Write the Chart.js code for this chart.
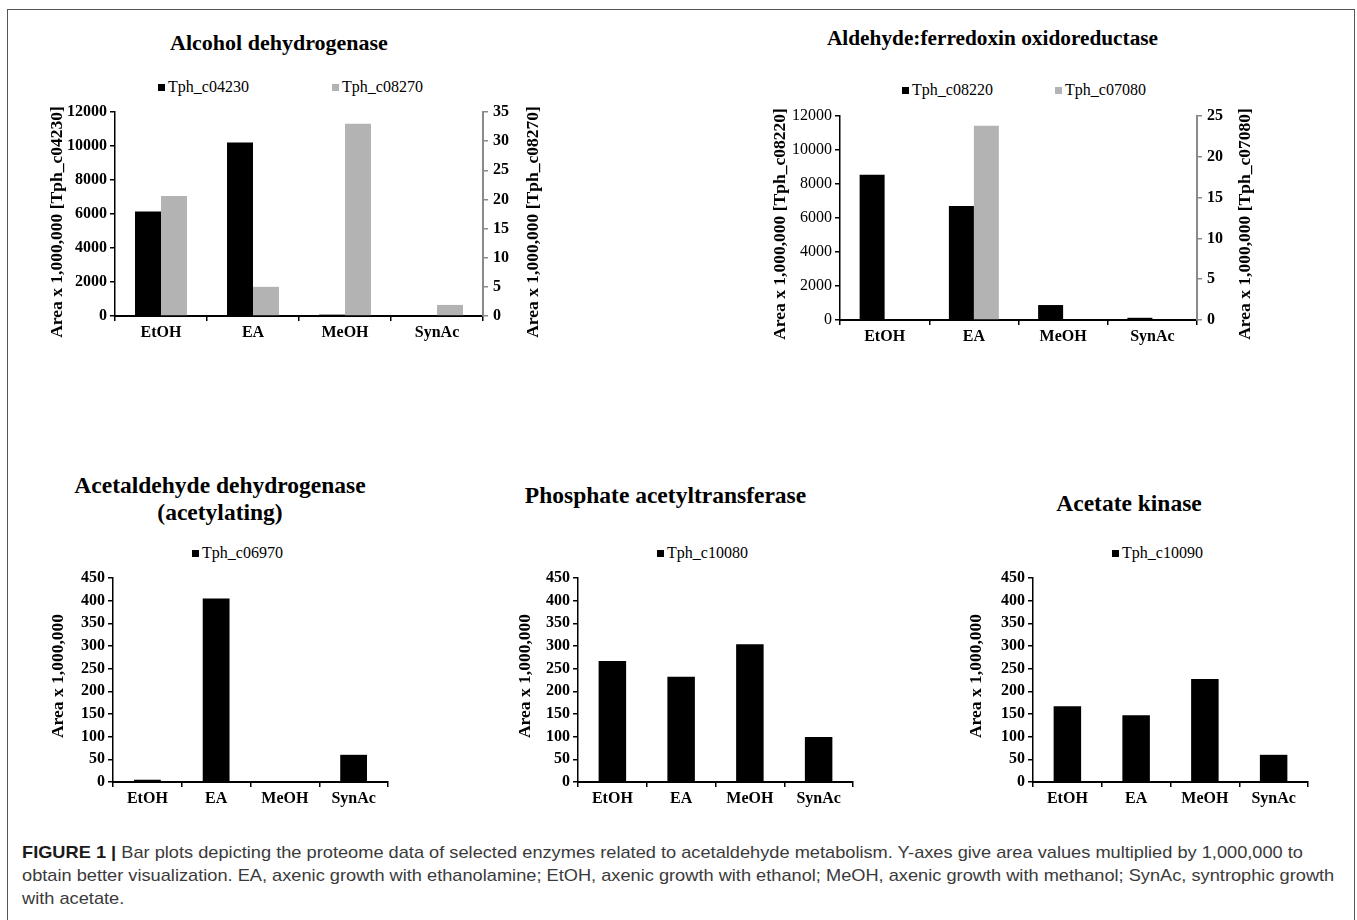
<!DOCTYPE html>
<html><head><meta charset="utf-8">
<script src="https://cdn.jsdelivr.net/npm/chart.js@4.4.1/dist/chart.umd.min.js"></script>
<style>
html,body{margin:0;padding:0;background:#fff;width:1357px;height:920px;overflow:hidden;position:relative;}
#frame{position:absolute;left:7px;top:9px;width:1348px;height:1000px;border:1.5px solid #555;border-bottom:none;box-sizing:border-box;}
canvas.cv{position:absolute;}
.ttl{position:absolute;font-family:"Liberation Serif","Times New Roman",serif;font-weight:bold;color:#000;text-align:center;white-space:nowrap;transform:translate(-50%,-50%);}
.leg{position:absolute;font-family:"Liberation Serif","Times New Roman",serif;font-size:16px;color:#000;white-space:nowrap;transform:translateY(-50%);display:flex;align-items:center;line-height:1;}
.sw{display:inline-block;width:7px;height:7px;margin-right:3px;}
.cap{position:absolute;left:22px;font-family:"Liberation Sans","Arimo",Arial,sans-serif;font-size:17px;color:#3a3a3a;white-space:nowrap;transform-origin:0 50%;line-height:1;}
.cap b{color:#1a1a1a;}
</style>
</head><body>
<div id="frame"></div>
<div id="root"></div>
<script>
// ---------------- DATA ----------------
const categories = ['EtOH', 'EA', 'MeOH', 'SynAc'];

const adhNames = ['Tph_c04230', 'Tph_c08270'];
const adhC04230 = [6150, 10200, 80, 30];
const adhC08270 = [20.6, 5.0, 33.0, 1.9];

const aorNames = ['Tph_c08220', 'Tph_c07080'];
const aorC08220 = [8550, 6700, 880, 130];
const aorC07080 = [0, 23.8, 0, 0];

const aldhNames = ['Tph_c06970'];
const aldhC06970 = [5, 405, 0, 60];

const ptaNames = ['Tph_c10080'];
const ptaC10080 = [267, 232, 304, 99];

const ackNames = ['Tph_c10090'];
const ackC10090 = [167, 147, 227, 60];

const ticksTopLeft = [0, 2000, 4000, 6000, 8000, 10000, 12000];
const ticksAdhRight = [0, 5, 10, 15, 20, 25, 30, 35];
const ticksAorRight = [0, 5, 10, 15, 20, 25];
const ticksBottom = [0, 50, 100, 150, 200, 250, 300, 350, 400, 450];

const titleAdh = ['Alcohol dehydrogenase'];
const titleAor = ['Aldehyde:ferredoxin oxidoreductase'];
const titleAldh = ['Acetaldehyde dehydrogenase', '(acetylating)'];
const titlePta = ['Phosphate acetyltransferase'];
const titleAck = ['Acetate kinase'];

const axisUnit = 'Area x 1,000,000';

const captionLines = [
  ['FIGURE 1 |', ' Bar plots depicting the proteome data of selected enzymes related to acetaldehyde metabolism. Y-axes give area values multiplied by 1,000,000 to'],
  ['', 'obtain better visualization. EA, axenic growth with ethanolamine; EtOH, axenic growth with ethanol; MeOH, axenic growth with methanol; SynAc, syntrophic growth'],
  ['', 'with acetate.']
];

// ---------------- STYLE / LAYOUT ----------------
const BLACK = '#000000';
const GRAY = '#b3b3b3';
const AXGRAY = '#8a8a8a';
const SERIF = '"Liberation Serif", "Times New Roman", serif';

// vertical axis titles, drawn rotated (reading bottom-to-top) on both sides
const axisTitles = {
  id: 'axisTitles',
  afterDraw(chart, args, opts) {
    if (!opts || !opts.items) return;
    const {ctx, chartArea} = chart;
    opts.items.forEach(it => {
      ctx.save();
      ctx.translate(it.x, (chartArea.top + chartArea.bottom) / 2 + (it.dy || 0));
      ctx.rotate(-Math.PI / 2);
      ctx.font = 'bold 17.5px ' + SERIF;
      ctx.fillStyle = '#000';
      ctx.textAlign = 'center';
      ctx.textBaseline = 'middle';
      ctx.fillText(it.text, 0, 0);
      ctx.restore();
    });
  }
};

const specs = [
  {
    title: titleAdh, tSize: 22, tX: 279, tY: 42,
    legendY: 87, legendX: [158, 332], names: adhNames,
    series: [{data: adhC04230, color: BLACK, axis: 'y'}, {data: adhC08270, color: GRAY, axis: 'y1'}],
    area: {l: 115, r: 483, t: 112, b: 316}, cvL: 30, cvR: 560,
    leftTicks: ticksTopLeft, leftBold: true, leftTitle: axisUnit + ' [Tph_c04230]', leftTitleX: 57, titleDy: 8,
    rightTicks: ticksAdhRight, rightTitle: axisUnit + ' [Tph_c08270]', rightTitleX: 533.5,
    catPct: 0.565
  },
  {
    title: titleAor, tSize: 21.3, tX: 992.5, tY: 38,
    legendY: 90, legendX: [902, 1055], names: aorNames,
    series: [{data: aorC08220, color: BLACK, axis: 'y'}, {data: aorC07080, color: GRAY, axis: 'y1'}],
    area: {l: 840, r: 1197, t: 116, b: 320}, cvL: 750, cvR: 1275,
    leftTicks: ticksTopLeft, leftBold: false, leftTitle: axisUnit + ' [Tph_c08220]', leftTitleX: 780, titleDy: 6,
    rightTicks: ticksAorRight, rightTitle: axisUnit + ' [Tph_c07080]', rightTitleX: 1245,
    catPct: 0.56
  },
  {
    title: titleAldh, tSize: 23.5, tX: 220, tY: 498.5,
    legendY: 553, legendX: [192], names: aldhNames,
    series: [{data: aldhC06970, color: BLACK, axis: 'y'}],
    area: {l: 113, r: 388, t: 578, b: 782}, cvL: 30, cvR: 398,
    leftTicks: ticksBottom, leftBold: true, leftTitle: axisUnit, leftTitleX: 58.3, titleDy: -4,
    catPct: 0.39
  },
  {
    title: titlePta, tSize: 23.5, tX: 665.5, tY: 495,
    legendY: 553, legendX: [657], names: ptaNames,
    series: [{data: ptaC10080, color: BLACK, axis: 'y'}],
    area: {l: 578, r: 853, t: 578, b: 782}, cvL: 495, cvR: 863,
    leftTicks: ticksBottom, leftBold: true, leftTitle: axisUnit, leftTitleX: 525, titleDy: -4,
    catPct: 0.4
  },
  {
    title: titleAck, tSize: 23.5, tX: 1129, tY: 503,
    legendY: 553, legendX: [1112], names: ackNames,
    series: [{data: ackC10090, color: BLACK, axis: 'y'}],
    area: {l: 1033, r: 1308, t: 578, b: 782}, cvL: 946, cvR: 1318,
    leftTicks: ticksBottom, leftBold: true, leftTitle: axisUnit, leftTitleX: 976, titleDy: -4,
    catPct: 0.4
  }
];

const PAD_TOP = 15, XH = 50;
const root = document.getElementById('root');

function tickFont(bold) { return {family: SERIF, size: 16, weight: bold ? 'bold' : 'normal', lineHeight: 1.2}; }
function fixedTicks(arr) { return (s) => { s.ticks = arr.map(v => ({value: v})); }; }

specs.forEach((sp) => {
  // title
  const t = document.createElement('div');
  t.className = 'ttl';
  t.style.left = sp.tX + 'px';
  t.style.top = sp.tY + 'px';
  t.style.fontSize = sp.tSize + 'px';
  t.style.lineHeight = '27px';
  t.innerHTML = sp.title.join('<br>');
  root.appendChild(t);
  // legend
  sp.names.forEach((n, i) => {
    const l = document.createElement('div');
    l.className = 'leg';
    l.style.left = sp.legendX[i] + 'px';
    l.style.top = sp.legendY + 'px';
    l.innerHTML = '<span class="sw" style="background:' + sp.series[i].color + '"></span>' + n;
    root.appendChild(l);
  });
  // canvas
  const top = sp.area.t - PAD_TOP;
  const height = sp.area.b - top + XH;
  const width = sp.cvR - sp.cvL;
  const cv = document.createElement('canvas');
  cv.className = 'cv';
  cv.width = width; cv.height = height;
  cv.style.left = sp.cvL + 'px'; cv.style.top = top + 'px';
  cv.style.width = width + 'px'; cv.style.height = height + 'px';
  root.appendChild(cv);

  const dual = !!sp.rightTicks;
  const yw = sp.area.l - sp.cvL;
  const y1w = sp.cvR - sp.area.r;

  const scales = {
    x: {
      type: 'category', offset: true,
      grid: {display: true, offset: true, drawOnChartArea: false, drawTicks: true, tickLength: 5, color: BLACK, lineWidth: 1.5},
      border: {display: true, color: BLACK, width: 2},
      ticks: {font: tickFont(true), color: BLACK, padding: 2, maxRotation: 0, autoSkip: false},
      afterFit: (s) => { s.height = XH; }
    },
    y: {
      type: 'linear', position: 'left', min: 0, max: sp.leftTicks[sp.leftTicks.length - 1],
      afterBuildTicks: fixedTicks(sp.leftTicks),
      grid: {display: true, drawOnChartArea: false, drawTicks: true, tickLength: 5, color: BLACK, lineWidth: 1.5},
      border: {display: true, color: BLACK, width: 1.5},
      ticks: {font: tickFont(sp.leftBold), color: BLACK, padding: 3, autoSkip: false, callback: (v) => String(v)},
      afterFit: (s) => { s.width = yw; }
    }
  };
  const titleItems = [{text: sp.leftTitle, x: sp.leftTitleX - sp.cvL, dy: sp.titleDy}];
  if (dual) {
    scales.y1 = {
      type: 'linear', position: 'right', min: 0, max: sp.rightTicks[sp.rightTicks.length - 1],
      afterBuildTicks: fixedTicks(sp.rightTicks),
      grid: {display: true, drawOnChartArea: false, drawTicks: true, tickLength: 5, color: AXGRAY, lineWidth: 1.5},
      border: {display: true, color: AXGRAY, width: 2},
      ticks: {font: tickFont(true), color: BLACK, padding: 5, autoSkip: false, callback: (v) => String(v)},
      afterFit: (s) => { s.width = y1w; }
    };
    titleItems.push({text: sp.rightTitle, x: sp.rightTitleX - sp.cvL, dy: sp.titleDy});
  }

  new Chart(cv, {
    type: 'bar',
    data: {
      labels: categories,
      datasets: sp.series.map((s, i) => ({
        label: sp.names[i], data: s.data, backgroundColor: s.color, borderWidth: 0,
        yAxisID: s.axis, categoryPercentage: sp.catPct, barPercentage: 1
      }))
    },
    options: {
      responsive: false, animation: false, devicePixelRatio: 1,
      layout: {padding: {top: PAD_TOP, left: 0, right: dual ? 0 : (sp.cvR - sp.area.r), bottom: 0}},
      plugins: {
        legend: {display: false}, title: {display: false}, tooltip: {enabled: false},
        axisTitles: {items: titleItems}
      },
      scales: scales
    },
    plugins: [axisTitles]
  });
});

// caption
const capTops = [852, 875, 898];
const capLine1Width = 1281;
const capEls = captionLines.map((ln, i) => {
  const d = document.createElement('div');
  d.className = 'cap';
  d.style.top = (capTops[i] - 8) + 'px';
  d.innerHTML = (ln[0] ? '<b>' + ln[0] + '</b>' : '') + ln[1];
  root.appendChild(d);
  return d;
});
const sc = capLine1Width / capEls[0].getBoundingClientRect().width;
capEls.forEach(d => { d.style.transform = 'scaleX(' + sc + ')'; });
</script>
</body></html>
